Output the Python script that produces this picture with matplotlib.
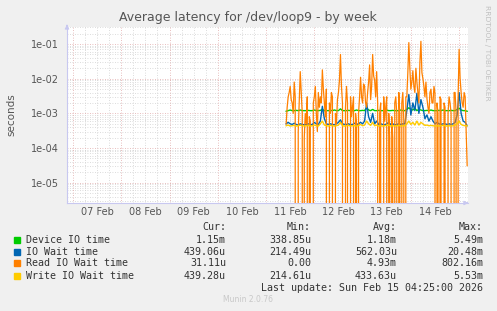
"""
Munin style weekly latency chart for /dev/loop9
"""

import numpy as np
import matplotlib.pyplot as plt

# settings ---------------------------------------------------------------------
TITLE = 'Average latency for /dev/loop9 - by week'
DAY_LABELS = ['07 Feb', '08 Feb', '09 Feb', '10 Feb', '11 Feb', '12 Feb', '13 Feb', '14 Feb']
Y_TICKS = [1e-5, 1e-4, 1e-3, 1e-2, 1e-1]
Y_LABELS = ['1e-05', '1e-04', '1e-03', '1e-02', '1e-01']

# data: samples from Feb 11 10:00 to Feb 15 04:00 (days since Feb 07)
T_START = 4 + 10 / 24

# hourly samples
device_io = [
    1.15e-3, 1.2e-3, 1.25e-3, 1.2e-3, 1.2e-3, 1.22e-3, 1.2e-3, 1.25e-3, 1.2e-3, 1.2e-3,
    1.2e-3, 1.22e-3, 1.2e-3, 1.2e-3, 1.25e-3, 1.2e-3, 1.2e-3, 1.22e-3, 1.3e-3, 1.2e-3,
    1.2e-3, 1.2e-3, 1.22e-3, 1.2e-3, 1.25e-3, 1.2e-3, 1.2e-3, 1.35e-3, 1.2e-3, 1.2e-3,
    1.2e-3, 1.22e-3, 1.2e-3, 1.2e-3, 1.2e-3, 1.25e-3, 1.2e-3, 1.2e-3, 1.22e-3, 1.2e-3,
    1.45e-3, 1.25e-3, 1.2e-3, 1.3e-3, 1.2e-3, 1.2e-3, 1.22e-3, 1.2e-3, 1.2e-3, 1.2e-3,
    1.25e-3, 1.2e-3, 1.2e-3, 1.22e-3, 1.2e-3, 1.2e-3, 1.2e-3, 1.25e-3, 1.2e-3, 1.2e-3,
    1.3e-3, 1.45e-3, 1.3e-3, 1.25e-3, 1.4e-3, 1.2e-3, 1.3e-3, 1.25e-3, 1.2e-3, 1.2e-3,
    1.22e-3, 1.2e-3, 1.25e-3, 1.2e-3, 1.2e-3, 1.2e-3, 1.22e-3, 1.2e-3, 1.25e-3, 1.2e-3,
    1.2e-3, 1.2e-3, 1.22e-3, 1.2e-3, 1.2e-3, 1.3e-3, 1.4e-3, 1.25e-3, 1.2e-3, 1.2e-3,
    1.15e-3]

io_wait = [
    5.0e-4, 5.5e-4, 5.0e-4, 4.8e-4, 5.2e-4, 4.8e-4, 4.6e-4, 5.0e-4, 4.8e-4, 4.7e-4,
    4.8e-4, 5.0e-4, 4.7e-4, 4.8e-4, 5.5e-4, 5.0e-4, 4.8e-4, 6.0e-4, 1.6e-3, 7.0e-4,
    5.0e-4, 4.8e-4, 5.0e-4, 4.8e-4, 4.7e-4, 5.0e-4, 5.5e-4, 6.5e-4, 5.0e-4, 4.8e-4,
    4.8e-4, 5.0e-4, 4.7e-4, 4.8e-4, 5.2e-4, 4.8e-4, 5.0e-4, 5.5e-4, 5.0e-4, 6.0e-4,
    2.0e-3, 8.0e-4, 5.5e-4, 1.0e-3, 5.0e-4, 6.0e-4, 4.8e-4, 5.0e-4, 4.8e-4, 4.7e-4,
    5.0e-4, 5.5e-4, 4.8e-4, 5.0e-4, 4.7e-4, 4.8e-4, 5.0e-4, 4.8e-4, 5.0e-4, 5.0e-4,
    1.2e-3, 3.5e-3, 9.0e-4, 2.0e-3, 1.2e-3, 3.8e-3, 1.0e-3, 2.5e-3, 1.5e-3, 7.0e-4,
    9.0e-4, 6.0e-4, 8.0e-4, 6.0e-4, 5.0e-4, 5.5e-4, 5.0e-4, 4.8e-4, 5.0e-4, 5.0e-4,
    4.8e-4, 5.0e-4, 4.8e-4, 5.0e-4, 5.5e-4, 9.0e-4, 4.0e-3, 1.0e-3, 6.0e-4, 5.5e-4,
    4.4e-4]

write_io_wait = [
    4.4e-4, 4.6e-4, 4.3e-4, 4.4e-4, 4.5e-4, 4.3e-4, 4.4e-4, 4.6e-4, 4.4e-4, 4.3e-4,
    4.4e-4, 4.5e-4, 4.3e-4, 4.4e-4, 4.6e-4, 4.4e-4, 4.3e-4, 5.0e-4, 6.0e-4, 4.6e-4,
    4.4e-4, 4.3e-4, 4.5e-4, 4.4e-4, 4.3e-4, 4.4e-4, 4.6e-4, 5.5e-4, 4.4e-4, 4.3e-4,
    4.4e-4, 4.5e-4, 4.3e-4, 4.4e-4, 4.4e-4, 4.3e-4, 4.5e-4, 4.8e-4, 4.4e-4, 4.6e-4,
    6.0e-4, 5.0e-4, 4.5e-4, 5.5e-4, 4.4e-4, 4.6e-4, 4.3e-4, 4.4e-4, 4.3e-4, 4.4e-4,
    4.5e-4, 4.6e-4, 4.3e-4, 4.4e-4, 4.3e-4, 4.4e-4, 4.5e-4, 4.3e-4, 4.4e-4, 4.4e-4,
    5.0e-4, 6.0e-4, 4.8e-4, 5.5e-4, 4.6e-4, 6.0e-4, 4.6e-4, 5.5e-4, 5.0e-4, 4.5e-4,
    4.6e-4, 4.4e-4, 4.5e-4, 4.4e-4, 4.3e-4, 4.4e-4, 4.3e-4, 4.4e-4, 4.5e-4, 4.4e-4,
    4.3e-4, 4.4e-4, 4.3e-4, 4.4e-4, 4.6e-4, 5.0e-4, 6.0e-4, 4.8e-4, 4.5e-4, 4.4e-4,
    4.4e-4]

# half-hourly samples
read_io_wait = [
    5e-4, 1.5e-3, 3e-3, 4e-3, 6e-3, 2.5e-3, 2e-3, 1e-3, 8e-3, 3e-3,
    0, 0, 3e-4, 2e-3, 1.6e-2, 4e-3, 1e-3, 0, 2e-4, 1e-3,
    5e-4, 3e-3, 0, 8e-4, 6e-4, 0, 0, 2e-3, 3e-3, 6e-3,
    1e-3, 3e-4, 4e-3, 1.5e-3, 3e-3, 2e-3, 1.8e-2, 5e-3, 2e-3, 8e-4,
    5e-3, 0, 0, 2e-3, 1e-3, 4e-3, 3e-3, 0, 0, 1e-3,
    5e-4, 2.5e-3, 4e-3, 9e-3, 5e-2, 6e-3, 2e-3, 0, 0, 1.5e-3,
    6e-3, 2e-3, 0, 0, 3e-3, 8e-4, 1.5e-3, 3e-3, 0, 1e-3,
    5e-4, 0, 1e-3, 3e-3, 1.1e-2, 3e-3, 2e-3, 7e-3, 6e-3, 2e-3,
    1.5e-3, 4e-3, 8e-3, 2.5e-2, 2.5e-3, 6e-3, 5e-2, 1.2e-2, 9e-3, 3e-3,
    1.6e-2, 2e-3, 0, 1e-3, 2e-3, 0, 0, 3e-3, 6e-4, 1.5e-3,
    3e-3, 0, 1e-3, 2e-4, 0, 8e-4, 2e-4, 0, 2e-3, 3e-3,
    1e-3, 0, 4e-3, 1e-3, 0, 2e-3, 4e-3, 6e-4, 0, 3e-3,
    3e-3, 1.5e-2, 1.1e-1, 2e-2, 5e-3, 8e-3, 1.7e-2, 6e-3, 4e-3, 2e-2,
    8e-3, 4e-3, 2e-3, 3e-2, 1.2e-1, 1.5e-2, 1e-2, 6e-3, 3e-3, 8e-3,
    2.7e-3, 1.5e-3, 1e-3, 4e-3, 5e-3, 2e-3, 2e-3, 6e-3, 3.8e-3, 0,
    2e-3, 1e-3, 0, 3e-3, 2.5e-3, 0, 0, 2e-3, 1.5e-3, 0,
    0, 1e-3, 3e-3, 2e-3, 1e-3, 0, 0, 4e-3, 4e-3, 1e-3,
    0, 3e-3, 7e-2, 1e-2, 4e-3, 2e-3, 1.5e-3, 4e-3, 3e-3, 3e-4,
    3.1e-5]

SERIES = ['Device IO time', 'IO Wait time', 'Read IO Wait time', 'Write IO Wait time']
COLORS = ['#00CC00', '#0066B3', '#FF8000', '#FFCC00']
CUR = ['1.15m', '439.06u', '31.11u', '439.28u']
MIN = ['338.85u', '214.49u', '0.00', '214.61u']
AVG = ['1.18m', '562.03u', '4.93m', '433.63u']
MAX = ['5.49m', '20.48m', '802.16m', '5.53m']
LAST_UPDATE = 'Last update: Sun Feb 15 04:25:00 2026'

X_LIMITS = [-0.124, 8 + 4.417 / 24]
Y_LIMITS = [2.6e-6, 0.31]

W, H = 497, 311


def main():

    fig = plt.figure(figsize=(W / 100, H / 100), dpi=100, facecolor='#F0F0F0')
    ax = fig.add_axes([67 / W, 1 - 203 / H, (468 - 67) / W, (203 - 27) / H])
    ax.set_facecolor('white')

    time_h = T_START + np.arange(len(device_io)) / 24
    time_hh = T_START + np.arange(len(read_io_wait)) / 48

    # grid =====================================================================
    ax.set_yscale('log', nonpositive='clip')
    ax.set_xlim(X_LIMITS)
    ax.set_ylim(Y_LIMITS)

    for d in np.arange(0, 8.25, 0.25):
        if d % 1 == 0:
            ax.axvline(d, color='#E0A8A8', lw=0.6, ls=(0, (1, 2)), zorder=1)
        else:
            ax.axvline(d, color='#D0D0D0', lw=0.6, ls=(0, (1, 2)), zorder=0.5)
    for dec in range(-6, 0):
        for m in range(1, 10):
            v = m * 10.0 ** dec
            if v < Y_LIMITS[0] or v > Y_LIMITS[1]:
                continue
            if m == 1:
                ax.axhline(v, color='#E0A8A8', lw=0.6, ls=(0, (1, 2)), zorder=1)
            else:
                ax.axhline(v, color='#D0D0D0', lw=0.6, ls=(0, (1, 2)), zorder=0.5)

    # data =====================================================================
    ax.plot(time_h, device_io, color=COLORS[0], lw=1.0, zorder=3)
    ax.plot(time_h, io_wait, color=COLORS[1], lw=1.0, zorder=3)
    ax.plot(time_hh, read_io_wait, color=COLORS[2], lw=0.9, zorder=3)
    ax.plot(time_h, write_io_wait, color=COLORS[3], lw=1.0, zorder=3)

    # axes =====================================================================
    for side in ['top', 'right']:
        ax.spines[side].set_visible(False)
    for side in ['left', 'bottom']:
        ax.spines[side].set_color('#C8C8F0')
        ax.spines[side].set_linewidth(0.8)
    ax.annotate('', xy=(1.008, 0), xytext=(0.99, 0), xycoords='axes fraction',
                arrowprops=dict(arrowstyle='-|>', color='#C8C8F0', lw=0.8,
                                mutation_scale=6), annotation_clip=False)
    ax.annotate('', xy=(0, 1.03), xytext=(0, 0.99), xycoords='axes fraction',
                arrowprops=dict(arrowstyle='-|>', color='#C8C8F0', lw=0.8,
                                mutation_scale=6), annotation_clip=False)

    ax.set_yticks(Y_TICKS)
    ax.set_yticklabels(Y_LABELS)
    ax.yaxis.set_minor_locator(plt.NullLocator())
    ax.set_xticks(np.arange(8) + 0.5)
    ax.set_xticklabels(DAY_LABELS)
    ax.tick_params(axis='both', length=0, labelsize=7, labelcolor='#555555', pad=3)
    ax.tick_params(axis='y', pad=6)
    ax.set_ylabel('seconds', fontsize=7.5, color='#555555', va='center')
    ax.yaxis.set_label_coords(-(67 - 11) / (468 - 67), 0.5)

    # text =====================================================================
    fig.text(248 / W, 1 - 18 / H, TITLE, fontsize=9, color='#555555',
             ha='center', va='center')
    fig.text(487 / W, 1 - 5 / H, 'RRDTOOL / TOBI OETIKER', fontsize=5.4,
             color='#C0C0C0', rotation=270, ha='center', va='top')

    mono = dict(family='DejaVu Sans Mono', fontsize=7.2, color='#333333', va='center')
    rows_y = [240, 252, 263, 276]
    col_x = [226, 311, 397, 483]
    for x, head in zip(col_x, ['Cur:', 'Min:', 'Avg:', 'Max:']):
        fig.text(x / W, 1 - 227 / H, head, ha='right', **mono)
    for y, name, color, cur, mn, avg, mx in zip(rows_y, SERIES, COLORS, CUR, MIN, AVG, MAX):
        fig.patches.append(plt.Rectangle((14 / W, 1 - (y + 3) / H), 6 / W, 6 / H,
                                         transform=fig.transFigure, color=color))
        fig.text(26 / W, 1 - y / H, name, ha='left', **mono)
        for x, val in zip(col_x, [cur, mn, avg, mx]):
            fig.text(x / W, 1 - y / H, val, ha='right', **mono)
    fig.text(483 / W, 1 - 288 / H, LAST_UPDATE, ha='right', **mono)
    fig.text(248 / W, 1 - 300 / H, 'Munin 2.0.76', fontsize=5.5, color='#C8C8C8',
             ha='center', va='center')

    fig.savefig('out.png', dpi=100, facecolor=fig.get_facecolor())


if __name__ == "__main__":
    main()
